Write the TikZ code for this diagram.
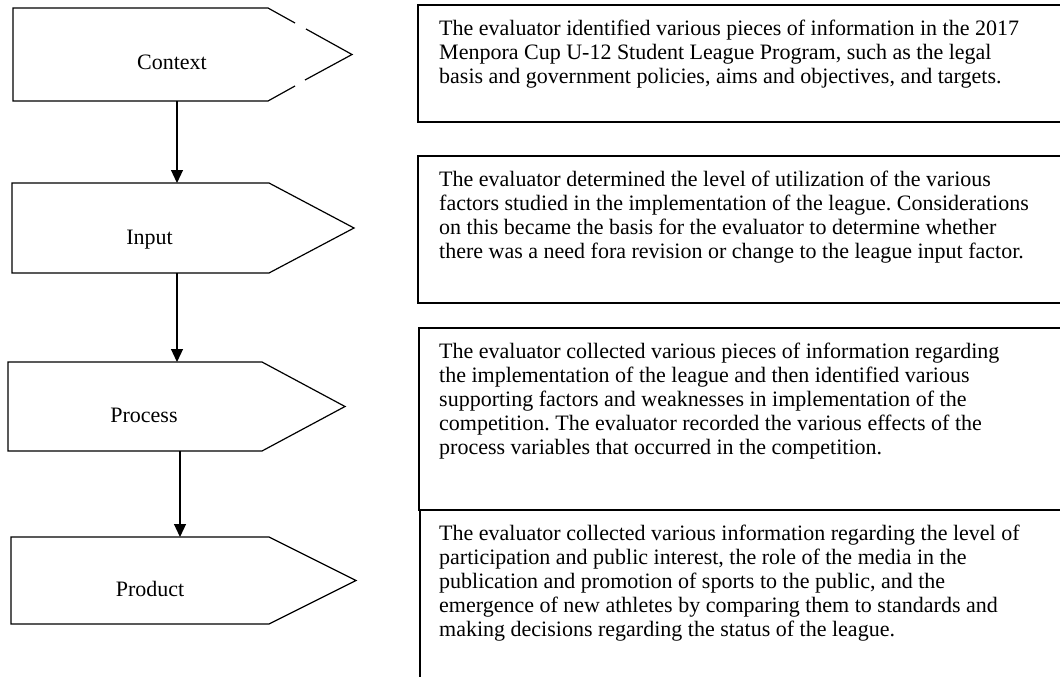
\documentclass[tikz,border=0pt]{standalone}
\usepackage{fontspec}
\setmainfont{Liberation Serif}
\usetikzlibrary{arrows.meta}
\frenchspacing
\tikzset{
  shapeline/.style={draw=black, line width=1.2pt, line join=miter},
  boxline/.style={draw=black, line width=1.5pt},
  flow/.style={draw=black, line width=1.2pt, -{Triangle[width=12pt,length=13pt]}},
  label/.style={font=\fontsize{22}{24}\selectfont, inner sep=0pt, anchor=base},
  desc/.style={font=\fontsize{22}{24}\selectfont\frenchspacing, inner sep=0pt, anchor=north west, align=left},
}
\newcommand{\fst}{\rule{0pt}{15.5pt}}
\begin{document}
\begin{tikzpicture}[x=1pt,y=-1pt]
\clip (0,0) rectangle (1060,677);
\fill[white] (0,0) rectangle (1060,677);

% ---- left pentagons ----
% Context (with small gaps on its diagonals)
\draw[shapeline] (295,23) -- (268,8) -- (13,8) -- (13,101) -- (268,101) -- (295,86);
\draw[shapeline] (306,29) -- (352,54.5) -- (305,80);
% Input
\draw[shapeline] (12,183) -- (269,183) -- (354,228) -- (269,273) -- (12,273) -- cycle;
% Process
\draw[shapeline] (8,362) -- (262,362) -- (345,406.5) -- (262,451) -- (8,451) -- cycle;
% Product
\draw[shapeline] (11,537) -- (269,537) -- (356,580.5) -- (269,624) -- (11,624) -- cycle;

\node[label] (context) at (172,70) {Context};
\node[label] (input) at (149.5,244) {Input};
\node[label] (process) at (144,422) {Process};
\node[label] (product) at (150,596) {Product};

% connector end points on the shape edges
\coordinate (cb) at (177,101);
\coordinate (it) at (177,183);
\coordinate (ib) at (177,273);
\coordinate (pt) at (177,362);
\coordinate (pb) at (180,451);
\coordinate (qt) at (180,537);

\draw[flow] (cb) -- (it);
\draw[flow] (ib) -- (pt);
\draw[flow] (pb) -- (qt);

% ---- right text boxes ----
\draw[boxline] (418,5) rectangle (1066,122);
\draw[boxline] (418,156) rectangle (1066,303);
\draw[boxline] (419,328) rectangle (1066,510);
\draw[boxline] (420,510) rectangle (1066,700);

\node[desc] (t1) at (439,19.5) {\fst The evaluator identified various pieces of information in the 2017\\
Menpora Cup U-12 Student League Program, such as the legal\\
basis and government policies, aims and objectives, and targets.};

\node[desc] (t2) at (439,170.5) {\fst The evaluator determined the level of utilization of the various\\
factors studied in the implementation of the league. Considerations\\
on this became the basis for the evaluator to determine whether\\
there was a need fora revision or change to the league input factor.};

\node[desc] (t3) at (439,342.5) {\fst The evaluator collected various pieces of information regarding\\
the implementation of the league and then identified various\\
supporting factors and weaknesses in implementation of the\\
competition. The evaluator recorded the various effects of the\\
process variables that occurred in the competition.};

\node[desc] (t4) at (439,524.5) {\fst The evaluator collected various information regarding the level of\\
participation and public interest, the role of the media in the\\
publication and promotion of sports to the public, and the\\
emergence of new athletes by comparing them to standards and\\
making decisions regarding the status of the league.};
\end{tikzpicture}
\end{document}
